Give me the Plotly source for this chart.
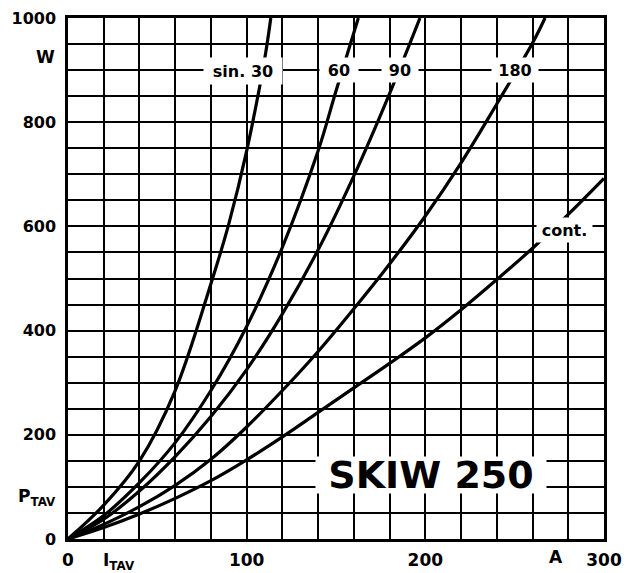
import plotly.graph_objects as go

# ---- data ----
x_sin30 = [0, 20, 40, 60, 80, 90, 100, 110, 113.5]
y_sin30 = [0, 65, 150, 285, 490, 605, 745, 920, 1000]

x_sin60 = [0, 20, 40, 60, 80, 100, 120, 140, 150, 162.5]
y_sin60 = [0, 45, 108, 185, 285, 408, 560, 745, 860, 1000]

x_sin90 = [0, 20, 40, 60, 80, 100, 120, 140, 160, 180, 197]
y_sin90 = [0, 38, 92, 158, 235, 325, 432, 555, 697, 855, 1000]

x_sin180 = [0, 20, 40, 60, 80, 100, 120, 140, 160, 180, 200, 220, 240, 260, 267]
y_sin180 = [0, 28, 62, 103, 153, 215, 285, 360, 442, 528, 620, 722, 835, 952, 1000]

x_cont = [0, 20, 40, 60, 80, 100, 120, 140, 160, 180, 200, 220, 240, 260, 280, 300]
y_cont = [0, 22, 48, 78, 112, 152, 196, 243, 290, 337, 386, 440, 498, 558, 623, 692]

x_tick_vals = [0, 100, 200, 300]
x_tick_text = ["0", "100", "200", "300"]
y_tick_vals = [0, 200, 400, 600, 800, 1000]
y_tick_text = ["0", "200", "400", "600", "800", "1000"]

curve_labels = ["sin. 30", "60", "90", "180", "cont."]
title_text = "SKIW 250"

series = [(x_sin30, y_sin30), (x_sin60, y_sin60), (x_sin90, y_sin90),
          (x_sin180, y_sin180), (x_cont, y_cont)]

fig = go.Figure()
for xs, ys in series:
    fig.add_trace(go.Scatter(x=xs, y=ys, mode="lines",
                             line=dict(color="black", width=3.2, shape="spline", smoothing=1.0),
                             showlegend=False, hoverinfo="skip"))

FONT = "DejaVu Sans"
lab_font = dict(family=FONT, size=16, color="black")

# curve labels (white boxes interrupt grid & curves like the original)
label_pos = [(97.8, 899, 78, 26), (151.7, 900, 38, 24), (185.9, 900, 36, 24),
             (250.4, 900, 46, 24), (277.8, 594, 55, 24)]
for txt, (lx, ly, w, h) in zip(curve_labels, label_pos):
    fig.add_annotation(x=lx, y=ly, xref="x", yref="y", text="<b>" + txt + "</b>",
                       showarrow=False, font=lab_font, bgcolor="white",
                       width=w, height=h, borderpad=0,
                       xanchor="center", yanchor="middle")

fig.add_annotation(x=203.3, y=123, xref="x", yref="y", text="<b>" + title_text + "</b>",
                   showarrow=False, font=dict(family=FONT, size=38, color="black"),
                   bgcolor="white", width=230, height=36, borderpad=0,
                   xanchor="center", yanchor="middle")

# page has an 8px body margin: figure sized so the plot area lands where the reference's does
OFF = 8
FW, FH = 622, 565
L, T = 60, 10
PW, PH = 536, 521
R, B = FW - L - PW, FH - T - PH


def px(xp):
    return (xp - OFF - L) / PW


def py(yp):
    return (T + PH - (yp - OFF)) / PH


small = dict(family=FONT, size=17, color="black")
for txt, (ax, ay) in [("<b>W</b>", (45, 57)),
                      ("<b>P<sub>TAV</sub></b>", (37, 497)),
                      ("<b>I<sub>TAV</sub></b>", (119, 561)),
                      ("<b>A</b>", (556, 557))]:
    fig.add_annotation(x=px(ax), y=py(ay), xref="paper", yref="paper", text=txt,
                       showarrow=False, font=small, xanchor="center", yanchor="middle")

fig.update_xaxes(range=[0, 300], tickvals=x_tick_vals,
                 ticktext=["<b>" + t + "</b>" for t in x_tick_text],
                 tickfont=dict(family=FONT, size=17, color="black"),
                 showgrid=True, gridcolor="black", gridwidth=1.6,
                 minor=dict(dtick=20, showgrid=True, gridcolor="black", gridwidth=1.6),
                 showline=True, linecolor="black", linewidth=2.5, mirror=True,
                 ticks="", zeroline=False, ticklabelstandoff=4, automargin=False,
                 ticklabeloverflow="allow")
fig.update_yaxes(range=[0, 1000], tickvals=y_tick_vals,
                 ticktext=["<b>" + t + "</b>" for t in y_tick_text],
                 tickfont=dict(family=FONT, size=16, color="black"),
                 showgrid=True, gridcolor="black", gridwidth=1.6,
                 minor=dict(dtick=50, showgrid=True, gridcolor="black", gridwidth=1.6),
                 showline=True, linecolor="black", linewidth=2.5, mirror=True,
                 ticks="", zeroline=False, ticklabelstandoff=6, automargin=False,
                 ticklabeloverflow="allow")

fig.update_layout(width=FW, height=FH, plot_bgcolor="white", paper_bgcolor="white",
                  margin=dict(l=L, r=R, t=T, b=B, autoexpand=False), showlegend=False)

fig.write_html("out.html")
